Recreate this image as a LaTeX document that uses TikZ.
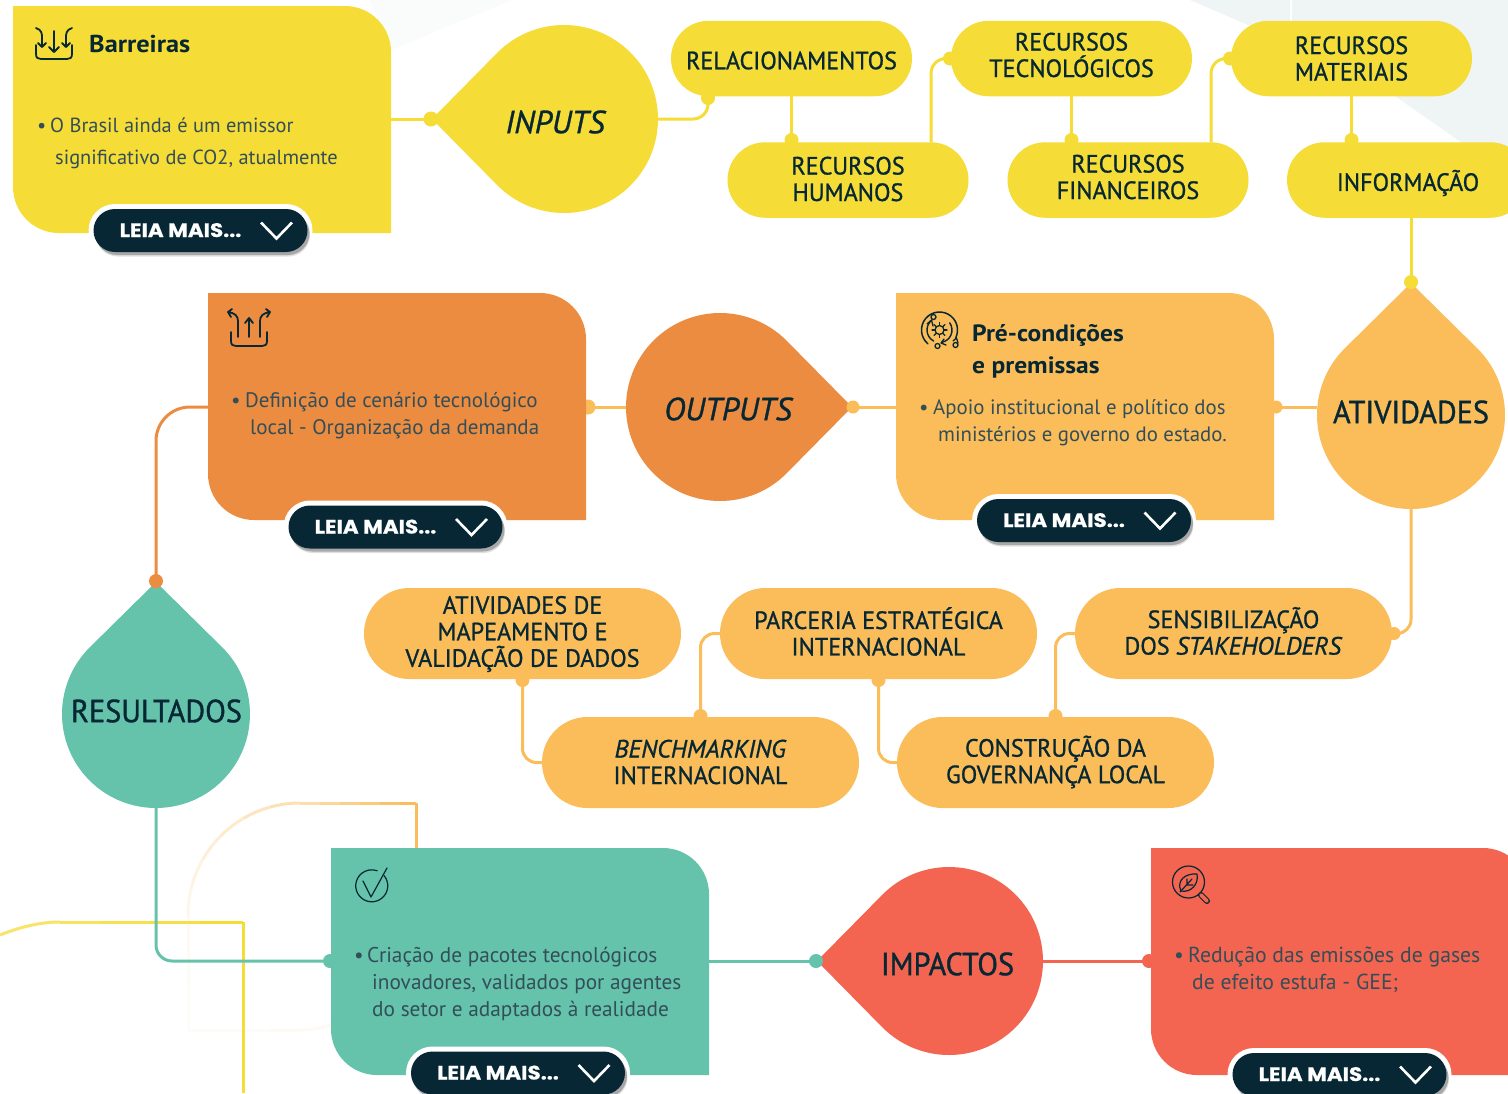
\documentclass[tikz,border=0pt]{standalone}
\usepackage{fontspec}
\setmainfont{PT Sans}
\newfontfamily\pillfont[FakeStretch=0.965,FakeBold=0.9,ItalicFeatures={FakeStretch=1.0}]{PT Sans}
\newfontfamily\dropfont[FakeStretch=0.945,FakeBold=1.0]{PT Sans}
\newfontfamily\itfont[FakeBold=1.0]{PT Sans}
\newfontfamily\headfont[FakeStretch=1.08]{PT Sans}
\newfontfamily\btnfont{Poppins}[BoldFont=Poppins Bold,BoldFeatures={FakeStretch=1.1,FakeBold=0.6}]
\usetikzlibrary{shapes.misc,calc}
\definecolor{cY}{HTML}{F5DC36}
\definecolor{cO}{HTML}{EC8C41}
\definecolor{cL}{HTML}{FABD59}
\definecolor{cT}{HTML}{65C3AB}
\definecolor{cR}{HTML}{F36550}
\definecolor{cD}{HTML}{062733}
\definecolor{cBg}{HTML}{EFF4F5}
\definecolor{cBgb}{HTML}{FAFBFB}
\tikzset{
 x=1pt,y=-1pt,
 pilltxt/.style={font=\pillfont\fontsize{25}{26.5}\selectfont,text=cD,align=center,inner sep=0pt},
 pill/.style={rounded rectangle,minimum width=#1,inner sep=0pt,outer sep=0pt},
 pillA/.style={pill=241,minimum height=75.5,fill=cY},
 pillB/.style={pill=317,minimum height=91,fill=cL},
 cardbox/.style={rectangle,minimum width=378,minimum height=227,inner sep=0pt,outer sep=0pt},
 droplabel/.style={font=\dropfont\fontsize{32}{32}\selectfont,text=cD,inner sep=0pt},
 droplabeli/.style={font=\itfont\itshape\fontsize{32}{32}\selectfont,text=cD,inner sep=0pt},
 body/.style={font=\fontsize{#1}{24}\selectfont,text=cD!82,anchor=base west,inner sep=0pt},
 head/.style={font=\headfont\bfseries\fontsize{#1}{24}\selectfont,text=cD,anchor=base west,inner sep=0pt},
 link/.style={line width=3pt,draw=#1,rounded corners=15pt},
 dotn/.style={circle,fill=#1,minimum size=15,inner sep=0pt,outer sep=0pt},
 btn/.style={rounded rectangle,minimum width=214,minimum height=43,inner sep=0pt,outer sep=0pt,fill=cD},
 btntxt/.style={font=\btnfont\bfseries\fontsize{19.5}{20}\selectfont,text=white,anchor=base west,inner sep=0pt},
 icon/.style={draw=cD,line width=1.8pt,line cap=round,line join=round},
 iconthin/.style={draw=cD,line width=1.2pt,line cap=round,line join=round},
}
% drop: #1 name, #2 centre, #3 tip direction, #4 colour
\newcommand{\mydrop}[4]{%
 \coordinate (#1) at (#2);
 \coordinate (#1tip) at ($(#1)+(#3:132)$);
 \fill[#4] (#1tip) -- ($(#1)+(#3+44.6:94)$) arc[start angle=#3+44.6,end angle=#3+315.4,radius=94] -- cycle;
 \coordinate (#1n) at ($(#1)+(0,-94)$);
 \coordinate (#1s) at ($(#1)+(0,94)$);
 \coordinate (#1e) at ($(#1)+(94,0)$);
 \coordinate (#1w) at ($(#1)+(-94,0)$);
}
% card: #1 name, #2 centre, #3 colour
\newcommand{\mycard}[3]{%
 \node[cardbox] (#1) at (#2) {};
 \fill[#3] (#1.north west) -- ([xshift=-46]#1.north east) arc[start angle=-90,end angle=0,radius=46]
   -- (#1.south east) -- ([xshift=46]#1.south west) arc[start angle=90,end angle=180,radius=46] -- cycle;
}
% button: #1 name, #2 centre
\newcommand{\mybtn}[2]{%
 \node[rounded rectangle,minimum width=224,minimum height=53,inner sep=0pt,fill=white] at (#2) {};
 \node[rounded rectangle,minimum width=214,minimum height=43,inner sep=0pt,fill=black,opacity=.12] at ($(#2)+(2.5,4.5)$) {};
 \node[rounded rectangle,minimum width=214,minimum height=43,inner sep=0pt,fill=black,opacity=.25] at ($(#2)+(2,3)$) {};
 \node[btn] (#1) at (#2) {};
 \node[btntxt] (#1t) at ($(#1)+(-81,6.5)$) {LEIA MAIS...};
 \draw[white,line width=2.6pt,line join=miter] ($(#1)+(60.5,-8)$) -- ($(#1)+(76,8)$) -- ($(#1)+(91.5,-8)$);
}
\begin{document}
\begin{tikzpicture}
\useasboundingbox (0,0) rectangle (1508,1093);
\fill[white] (0,0) rectangle (1508,1093);
\begin{scope}
\clip (0,0) rectangle (1508,1093);
% background
\fill[cBg] (1190,0) -- (1508,0) -- (1508,175) -- (1395,96) -- (1260,30) -- cycle;
\fill[white] (1289.5,0) rectangle (1292,22);
\fill[cBgb] (370,0) -- (512,0) -- (391,50) -- cycle;
% faded outlines
\foreach \op/\xa/\xb in {1/416/400,.9/400/380,.8/380/360,.7/360/340,.6/340/320,.5/320/300}{
 \draw[cL,line width=3pt,opacity=\op] (\xa,803) -- (\xb,803);}
\draw[cL,line width=3pt] (416,848) -- (416,803);
\foreach \op/\aa/\ab in {.45/90/105,.38/105/120,.3/120/135,.24/135/150,.18/150/165,.13/165/180}{
 \draw[cL,line width=3pt,opacity=\op] ($(300,915)+(\aa:112 and -112)$) arc[start angle=-\aa,end angle=-\ab,radius=112];}
\foreach \op/\ya/\yb in {.08/915/950,.05/950/985,.03/985/1030}{
 \draw[cL,line width=3pt,opacity=\op] (188,\ya) -- (188,\yb);}
\draw[cL,line width=3pt,opacity=.03] (188,1030) -- (270,1030);
\draw[cL,line width=3pt,opacity=.08] (270,1030) -- (300,1030) .. controls (312,1030) and (322,1028) .. (331,1025);
\draw[cY,line width=3pt] (243,1093) -- (243,922);
\foreach \op/\xa/\xb in {1/243/200,.9/200/150,.85/150/100,.8/100/60}{
 \draw[cY,line width=3pt,opacity=\op] (\xa,922) -- (\xb,922);}
\draw[cY,line width=3pt,opacity=.75] (60,922) .. controls (40,922) and (20,927) .. (0,935);

% pills
\node[pillA] (rel) at (791.5,58.5) {};
\node[pillA] (hum) at (848,180) {};
\node[pillA] (tec) at (1071.5,58.5) {};
\node[pillA] (fin) at (1128,180) {};
\node[pillA] (mat) at (1351.5,58.5) {};
\node[pillA,anchor=west] (inf) at (1287,180) {};

\coordinate (d10c) at (588,407);
\coordinate (d8c) at (1276,407);
\mydrop{dIn}{564,119}{180}{cY}
\mydrop{dOut}{720,407}{0}{cO}
\mydrop{dAt}{1411,415}{-90}{cL}
\mydrop{dRes}{156,714}{-90}{cT}
\mydrop{dImp}{949,961}{180}{cR}

\draw[line width=3pt,cL] (dOutw) -- (d10c);
\node[dotn=cL,minimum size=15] (d10) at (d10c) {};

\mycard{c1}{202,119.5}{cY}
\mycard{c2}{397,406.5}{cO}
\mycard{c3}{1085,406.5}{cL}
\mycard{c4}{520,961.5}{cT}
\mycard{c5}{1340,961.5}{cR}

\node[pillB] (map) at (522.5,633.5) {};
\node[pillB] (par) at (878.5,633.5) {};
\node[pillB] (sen) at (1233.5,633.5) {};
\node[pillB] (ben) at (700.5,762.5) {};
\node[pillB] (con) at (1055.5,762.5) {};

% pill labels
\node[pilltxt] (relt) at (791.5,60.5) {RELACIONAMENTOS};
\node[pilltxt] (humt) at (848,179) {RECURSOS\\HUMANOS};
\node[pilltxt] (tect) at (1071.5,55) {RECURSOS\\TECNOLÓGICOS};
\node[pilltxt] (fint) at (1128,177) {RECURSOS\\FINANCEIROS};
\node[pilltxt] (matt) at (1351.5,58.5) {RECURSOS\\MATERIAIS};
\node[pilltxt] (inft) at (1408,183) {INFORMAÇÃO};
\node[pilltxt] (mapt) at (522.5,634) {ATIVIDADES DE\\MAPEAMENTO E\\VALIDAÇÃO DE DADOS};
\node[pilltxt] (part) at (878.5,631.5) {PARCERIA ESTRATÉGICA\\INTERNACIONAL};
\node[pilltxt] (sent) at (1233.5,631) {SENSIBILIZAÇÃO\\DOS \textit{STAKEHOLDERS}};
\node[pilltxt] (bent) at (700.5,762) {\textit{BENCHMARKING}\\INTERNACIONAL};
\node[pilltxt] (cont) at (1055.5,762) {CONSTRUÇÃO DA\\GOVERNANÇA LOCAL};

% connectors, yellow
\coordinate (j1) at (708,97);
\draw[link=cY] (dIne) -- (708,119) -- (j1);
\node[dotn=cY,minimum size=14] (d1) at (708,98) {};
\draw[line width=3pt,cY] (c1.east |- dIn) -- (dIntip);
\node[dotn=cY] (d0) at (431,119) {};
\draw[line width=3pt,cY] (rel.south) -- (hum.north -| rel.south);
\node[dotn=cY,minimum size=14] (d2) at (791.5,140) {};
\draw[link=cY] (931,142) -- (931,58.5) -- (tec.west);
\node[dotn=cY,minimum size=14] (d3) at (950,58.5) {};
\draw[line width=3pt,cY] (tec.south) -- (fin.north -| tec.south);
\node[dotn=cY,minimum size=14] (d4) at (1071.5,140) {};
\draw[link=cY] (1211,142) -- (1211,58.5) -- (mat.west);
\node[dotn=cY,minimum size=14] (d5) at (1230,58.5) {};
\draw[line width=3pt,cY] (mat.south) -- (inf.north -| mat.south);
\node[dotn=cY,minimum size=14] (d6) at (1351.5,140) {};
\draw[line width=3pt,cY] (1411,218) -- (dAttip);
\node[dotn=cY,minimum size=14] (d7) at (1411,282) {};
% connectors, orange
\draw[line width=3pt,cL] (dAtw |- d8c) -- (d8c);
\node[dotn=cL,minimum size=13] (d8) at (d8c) {};
\draw[line width=3pt,cL] (c3.west |- dOut) -- (dOuttip);
\node[dotn=cL,minimum size=13] (d9) at (853,407) {};
\draw[link=cO,rounded corners=34pt] (c2.west |- dOut) -- (156,407) -- (dRestip);
\node[dotn=cO,minimum size=14] (d11) at (156,581) {};
\draw[line width=3pt,cL,rounded corners=14pt] (dAts) -- (1411,633.5) -- (sen.east);
\node[dotn=cL,minimum size=13] (d12) at (1394,633.5) {};
\draw[line width=3pt,cL,rounded corners=14pt] (sen.west) -- (1055.5,633.5) -- (con.north);
\node[dotn=cL,minimum size=14] (d13) at (1055.5,716) {};
\draw[line width=3pt,cL,rounded corners=14pt] (con.west) -- (878.5,762.5) -- (par.south);
\node[dotn=cL,minimum size=14] (d14) at (878.5,680) {};
\draw[line width=3pt,cL,rounded corners=14pt] (par.west) -- (700.5,633.5) -- (ben.north);
\node[dotn=cL,minimum size=14] (d15) at (700.5,716) {};
\draw[line width=3pt,cL,rounded corners=14pt] (ben.west) -- (522.5,762.5) -- (map.south);
\node[dotn=cL,minimum size=14] (d16) at (522.5,680) {};
% connectors, teal and red
\draw[line width=3pt,cT,rounded corners=16pt] (dRess) -- (156,961) -- (c4.west |- dImp);
\node[dotn=cT,minimum size=14] (d17) at (330,961) {};
\draw[line width=3pt,cT] (c4.east |- dImp) -- (dImptip);
\node[dotn=cT,minimum size=14] (d18) at (816,961) {};
\draw[line width=3pt,cR] (dImpe) -- (c5.west |- dImp);
\node[dotn=cR,minimum size=14] (d19) at (1149,961) {};

% drop labels
\node[droplabeli] (tIn) at (555,122) {INPUTS};
\node[droplabeli] (tOut) at (728,409) {OUTPUTS};
\node[droplabel] (tAt) at (1411,412) {ATIVIDADES};
\node[droplabel] (tRes) at (156.5,711) {RESULTADOS};
\node[droplabel] (tImp) at (947.5,964) {IMPACTOS};

% card texts
\node[head=24.4] (h1) at (89,52) {Barreiras};
\node[body=20.4] (b1a) at (37,132) {•};
\node[body=20.4] (b1b) at (50,132) {O Brasil ainda é um emissor};
\node[body=20.4] (b1c) at (55,164) {significativo de CO2, atualmente};

\node[body=21] (b2a) at (231,407) {•};
\node[body=21] (b2b) at (245,407) {Definição de cenário tecnológico};
\node[body=21] (b2c) at (250,434) {local - Organização da demanda};

\node[head=23.6] (h3a) at (972,341) {Pré-condições};
\node[head=23.6] (h3b) at (972,373) {e premissas};
\node[body=20.8] (b3a) at (919,414) {•};
\node[body=20.8] (b3b) at (933,414) {Apoio institucional e político dos};
\node[body=20.8] (b3c) at (938,441) {ministérios e governo do estado.};

\node[body=21.3] (b4a) at (354,962) {•};
\node[body=21.3] (b4b) at (367,962) {Criação de pacotes tecnológicos};
\node[body=21.3] (b4c) at (372,989) {inovadores, validados por agentes};
\node[body=21.3] (b4d) at (372,1016) {do setor e adaptados à realidade};

\node[body=21.7] (b5a) at (1174,962) {•};
\node[body=21.7] (b5b) at (1188,962) {Redução das emissões de gases};
\node[body=21.7] (b5c) at (1192,989) {de efeito estufa - GEE;};

% buttons
\mybtn{k1}{200.5,230.5}
\mybtn{k2}{395.5,527}
\mybtn{k3}{1084,520.5}
\mybtn{k4}{518,1073}
\mybtn{k5}{1339.5,1074.5}

% icon: barreiras
\draw[icon] (36,45) -- (36,54) .. controls (36,58) and (38,59) .. (41,59) -- (67,59) .. controls (70,59) and (72,58) .. (72,54) -- (72,45);
\draw[icon] (54,31) -- (54,52) (49,47) -- (54,52) -- (59,47);
\draw[icon] (36,28) .. controls (42,30) and (42,34) .. (42,38) -- (42,47) (38,43) -- (42,47) -- (46,43);
\draw[icon] (72,28) .. controls (66,30) and (66,34) .. (66,38) -- (66,47) (62,43) -- (66,47) -- (70,43);
% icon: outputs
\draw[icon] (231,332) -- (231,341) .. controls (231,345) and (233,346) .. (236,346) -- (262,346) .. controls (265,346) and (267,345) .. (267,341) -- (267,332);
\draw[icon] (249,337) -- (249,319) (245,323) -- (249,318) -- (253,323);
\draw[icon] (238,337) -- (238,321) .. controls (238,316) and (235,313) .. (228,312) (232,309) -- (228,312) -- (231,317);
\draw[icon] (260,337) -- (260,321) .. controls (260,316) and (263,313) .. (270,312) (266,309) -- (270,312) -- (267,317);
% icon: gear
\coordinate (gc) at (939.5,330);
\draw[icon,line width=1.5pt] ($(gc)+(130:18)$) arc[start angle=130,end angle=385,radius=18];
\draw[icon,line width=1.4pt] ($(gc)+(-35:12.5)$) arc[start angle=-35,end angle=78,radius=12.5];
\draw[icon,line width=1.4pt] ($(gc)+(118:12.5)$) arc[start angle=118,end angle=232,radius=12.5];
\draw[icon,line width=1.3pt] (953,341) -- (956.5,338) -- (958,343) (944,339) -- (941,343) -- (946,345) (927,324) -- (931.5,320) -- (933,326);
\draw[icon,line width=1.3pt] (gc) circle[radius=4.5];
\foreach \a in {0,45,...,315}{\draw[icon,line width=1.3pt] ($(gc)+(\a:4.5)$) -- ($(gc)+(\a:7.5)$);}
\draw[icon,line width=1.3pt,fill=cL] (933.5,317) circle[radius=2.5] (937.5,346) circle[radius=2.5] (955.5,345) circle[radius=2.5];
% icon: check
\draw[iconthin] (384,875.5) arc[start angle=-40,end angle=290,radius=16];
\draw[iconthin] (363,881) -- (371,897) -- (387,868);
% icon: leaf lens
\draw[iconthin] (1188.5,882) circle[radius=16];
\draw[draw=cD,line width=6pt,line cap=round] (1201,895) -- (1207,901);
\draw[draw=cR,line width=3.6pt,line cap=round] (1201,895) -- (1207,901);
\draw[iconthin] (1181,891) .. controls (1176,880) and (1186,873) .. (1197,874) .. controls (1199,884) and (1191,893) .. (1181,891);
\draw[iconthin] (1180,892) -- (1192,879) (1187,885) -- (1187,879) (1187,885) -- (1193,885);
\end{scope}
\end{tikzpicture}
\end{document}
